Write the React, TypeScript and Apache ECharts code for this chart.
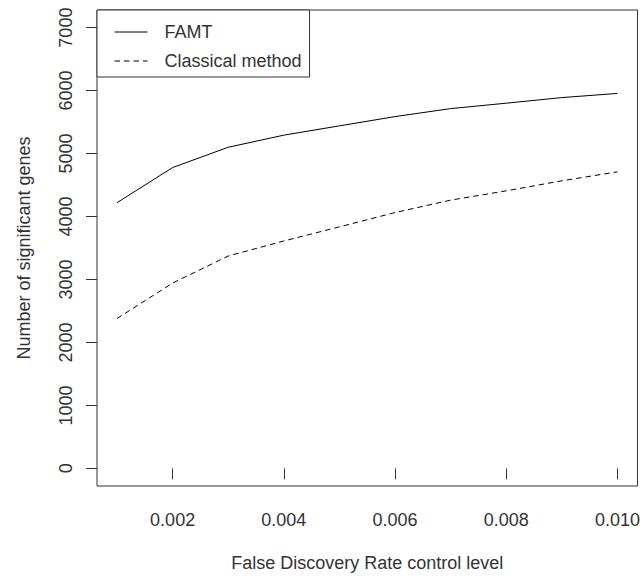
import React, { useEffect, useRef } from "react";
import * as echarts from "echarts";

const fdrLevels = [0.001, 0.002, 0.003, 0.004, 0.005, 0.006, 0.007, 0.008, 0.009, 0.01];
const famtGenes = [4220, 4778, 5100, 5292, 5440, 5587, 5714, 5800, 5889, 5955];
const classicalGenes = [2380, 2943, 3373, 3611, 3836, 4063, 4260, 4408, 4567, 4710];
const yTicks = [0, 1000, 2000, 3000, 4000, 5000, 6000, 7000];
const xTicks = [0.002, 0.004, 0.006, 0.008, 0.01];

const FONT = "'Liberation Sans', Arial, Helvetica, sans-serif";
const INK = "#333";
const AXIS = "#333";

export default function App() {
  const ref = useRef<HTMLDivElement>(null);
  useEffect(() => {
    if (!ref.current) return;
    const chart = echarts.init(ref.current, null, { renderer: "svg" });
    chart.setOption({
      animation: false,
      backgroundColor: "#fff",
      textStyle: { fontFamily: FONT },
      grid: {
        left: 97,
        top: 10,
        right: 3,
        bottom: 91,
        show: true,
        borderColor: AXIS,
        borderWidth: 1,
        containLabel: false,
      },
      legend: {
        orient: "vertical",
        left: 97,
        top: 10,
        padding: [12, 8, 6, 17],
        itemGap: 9,
        itemWidth: 33,
        itemHeight: 14,
        borderColor: AXIS,
        borderWidth: 1,
        backgroundColor: "#fff",
        itemStyle: { opacity: 0 },
        lineStyle: { width: 1 },
        textStyle: {
          fontFamily: FONT,
          fontSize: 18,
          color: INK,
          lineHeight: 20,
          padding: [0, 0, 0, 12],
        },
        data: ["FAMT", "Classical method"],
      },
      xAxis: {
        type: "value",
        min: 0.00064,
        max: 0.01036,
        name: "False Discovery Rate control level",
        nameLocation: "middle",
        nameGap: 68,
        nameTextStyle: { fontFamily: FONT, fontSize: 18, color: INK },
        axisLine: { show: false },
        splitLine: { show: false },
        axisTick: {
          show: true,
          length: 11,
          inside: false,
          lineStyle: { color: AXIS, width: 1 },
          customValues: xTicks,
        },
        axisLabel: {
          show: true,
          margin: 25,
          fontFamily: FONT,
          fontSize: 18,
          color: INK,
          customValues: xTicks,
          formatter: (v: number) => v.toFixed(3),
        },
      },
      yAxis: {
        type: "value",
        min: -280,
        max: 7280,
        name: "Number of significant genes",
        nameLocation: "middle",
        nameGap: 64,
        nameRotate: 90,
        nameTextStyle: { fontFamily: FONT, fontSize: 18, color: INK },
        axisLine: { show: false },
        splitLine: { show: false },
        axisTick: {
          show: true,
          length: 11,
          inside: false,
          lineStyle: { color: AXIS, width: 1 },
          customValues: yTicks,
        },
        axisLabel: {
          show: true,
          rotate: 90,
          margin: 22,
          fontFamily: FONT,
          fontSize: 18,
          color: INK,
          customValues: yTicks,
          formatter: (v: number) => String(v),
        },
      },
      series: [
        {
          name: "FAMT",
          type: "line",
          data: fdrLevels.map((x, i) => [x, famtGenes[i]]),
          showSymbol: false,
          symbol: "none",
          lineStyle: { color: "#000", width: 1, type: "solid" },
          itemStyle: { color: "#000" },
        },
        {
          name: "Classical method",
          type: "line",
          data: fdrLevels.map((x, i) => [x, classicalGenes[i]]),
          showSymbol: false,
          symbol: "none",
          lineStyle: { color: "#000", width: 1, type: [5.5, 4] },
          itemStyle: { color: "#000" },
        },
      ],
    });
    return () => chart.dispose();
  }, []);
  return <div ref={ref} style={{ width: 643, height: 577, position: "absolute", left: 0, top: 0 }} />;
}
